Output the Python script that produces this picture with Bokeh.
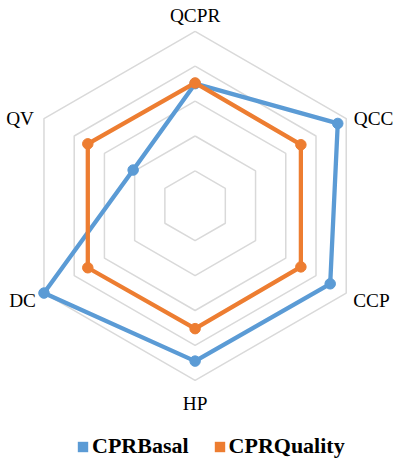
import numpy as np
from bokeh.plotting import figure
from bokeh.models import ColumnDataSource, Legend, LegendItem, Range1d
from bokeh.core.properties import value
from bokeh.embed import file_html
from bokeh.resources import INLINE

categories = ["QCPR", "QCC", "CCP", "HP", "DC", "QV"]
cpr_basal = [3.5, 4.72, 4.47, 4.45, 5.0, 2.05]
cpr_quality = [3.52, 3.5, 3.5, 3.52, 3.55, 3.55]
ring_levels = [1, 2, 3, 4, 5]
series_names = ["CPRBasal", "CPRQuality"]
series_colors = ["#5B9BD5", "#ED7D31"]

W, H = 403, 459
unit = 34.9
cx, cy = 194.6, 205.3  # centre in canvas px

p = figure(width=W, height=H, output_backend="svg", toolbar_location=None,
           x_range=Range1d(-cx / unit, (W - cx) / unit),
           y_range=Range1d(-(H - cy) / unit, cy / unit),
           x_axis_type=None, y_axis_type=None, min_border=0)
p.grid.visible = False
p.outline_line_color = None
p.background_fill_color = "white"

n = len(categories)
theta = np.arange(n) * 2 * np.pi / n
sx, sy = np.sin(theta), np.cos(theta)

# hexagonal rings
ring_xs = [list(np.append(r * sx, r * sx[0])) for r in ring_levels]
ring_ys = [list(np.append(r * sy, r * sy[0])) for r in ring_levels]
p.multi_line(ring_xs, ring_ys, line_color="#D9D9D9", line_width=1.5)

# series
for vals, col in zip([cpr_basal, cpr_quality], series_colors):
    v = np.array(vals)
    x = v * sx
    y = v * sy
    p.line(np.append(x, x[0]), np.append(y, y[0]), line_color=col, line_width=4.3,
           line_join="round")
    p.scatter(x, y, size=10.5, fill_color=col, line_color=col)

# category labels at outer ring vertices
rmax = max(ring_levels)
lab = ColumnDataSource(dict(
    x=rmax * sx, y=rmax * sy, text=categories,
    align=["center", "left", "left", "center", "right", "right"],
    xo=[0, 7.5, 7, 0, -8, -10],
    yo=[-16, 0, 7, 23, 7, 0],
))
p.text(x="x", y="y", text="text", source=lab, text_align="align",
       text_baseline="middle", x_offset="xo", y_offset="yo",
       text_font=value("Liberation Serif"), text_font_size="19.3px", text_color="black")

# legend entries
leg_renderers = []
for col in series_colors:
    q = p.quad(left=[np.nan], right=[np.nan], top=[np.nan], bottom=[np.nan],
               fill_color=col, line_color=None)
    leg_renderers.append(q)

legend = Legend(items=[LegendItem(label=nm, renderers=[r]) for nm, r in zip(series_names, leg_renderers)],
                orientation="horizontal", location=(76, 0),
                glyph_width=13, glyph_height=13, label_standoff=3, spacing=24,
                label_text_font="Liberation Serif", label_text_font_style="bold",
                label_text_font_size="22px", label_text_color="black",
                border_line_color=None, background_fill_alpha=0, padding=0, margin=0)
p.add_layout(legend)

open("out.html", "w").write(file_html(p, INLINE))
